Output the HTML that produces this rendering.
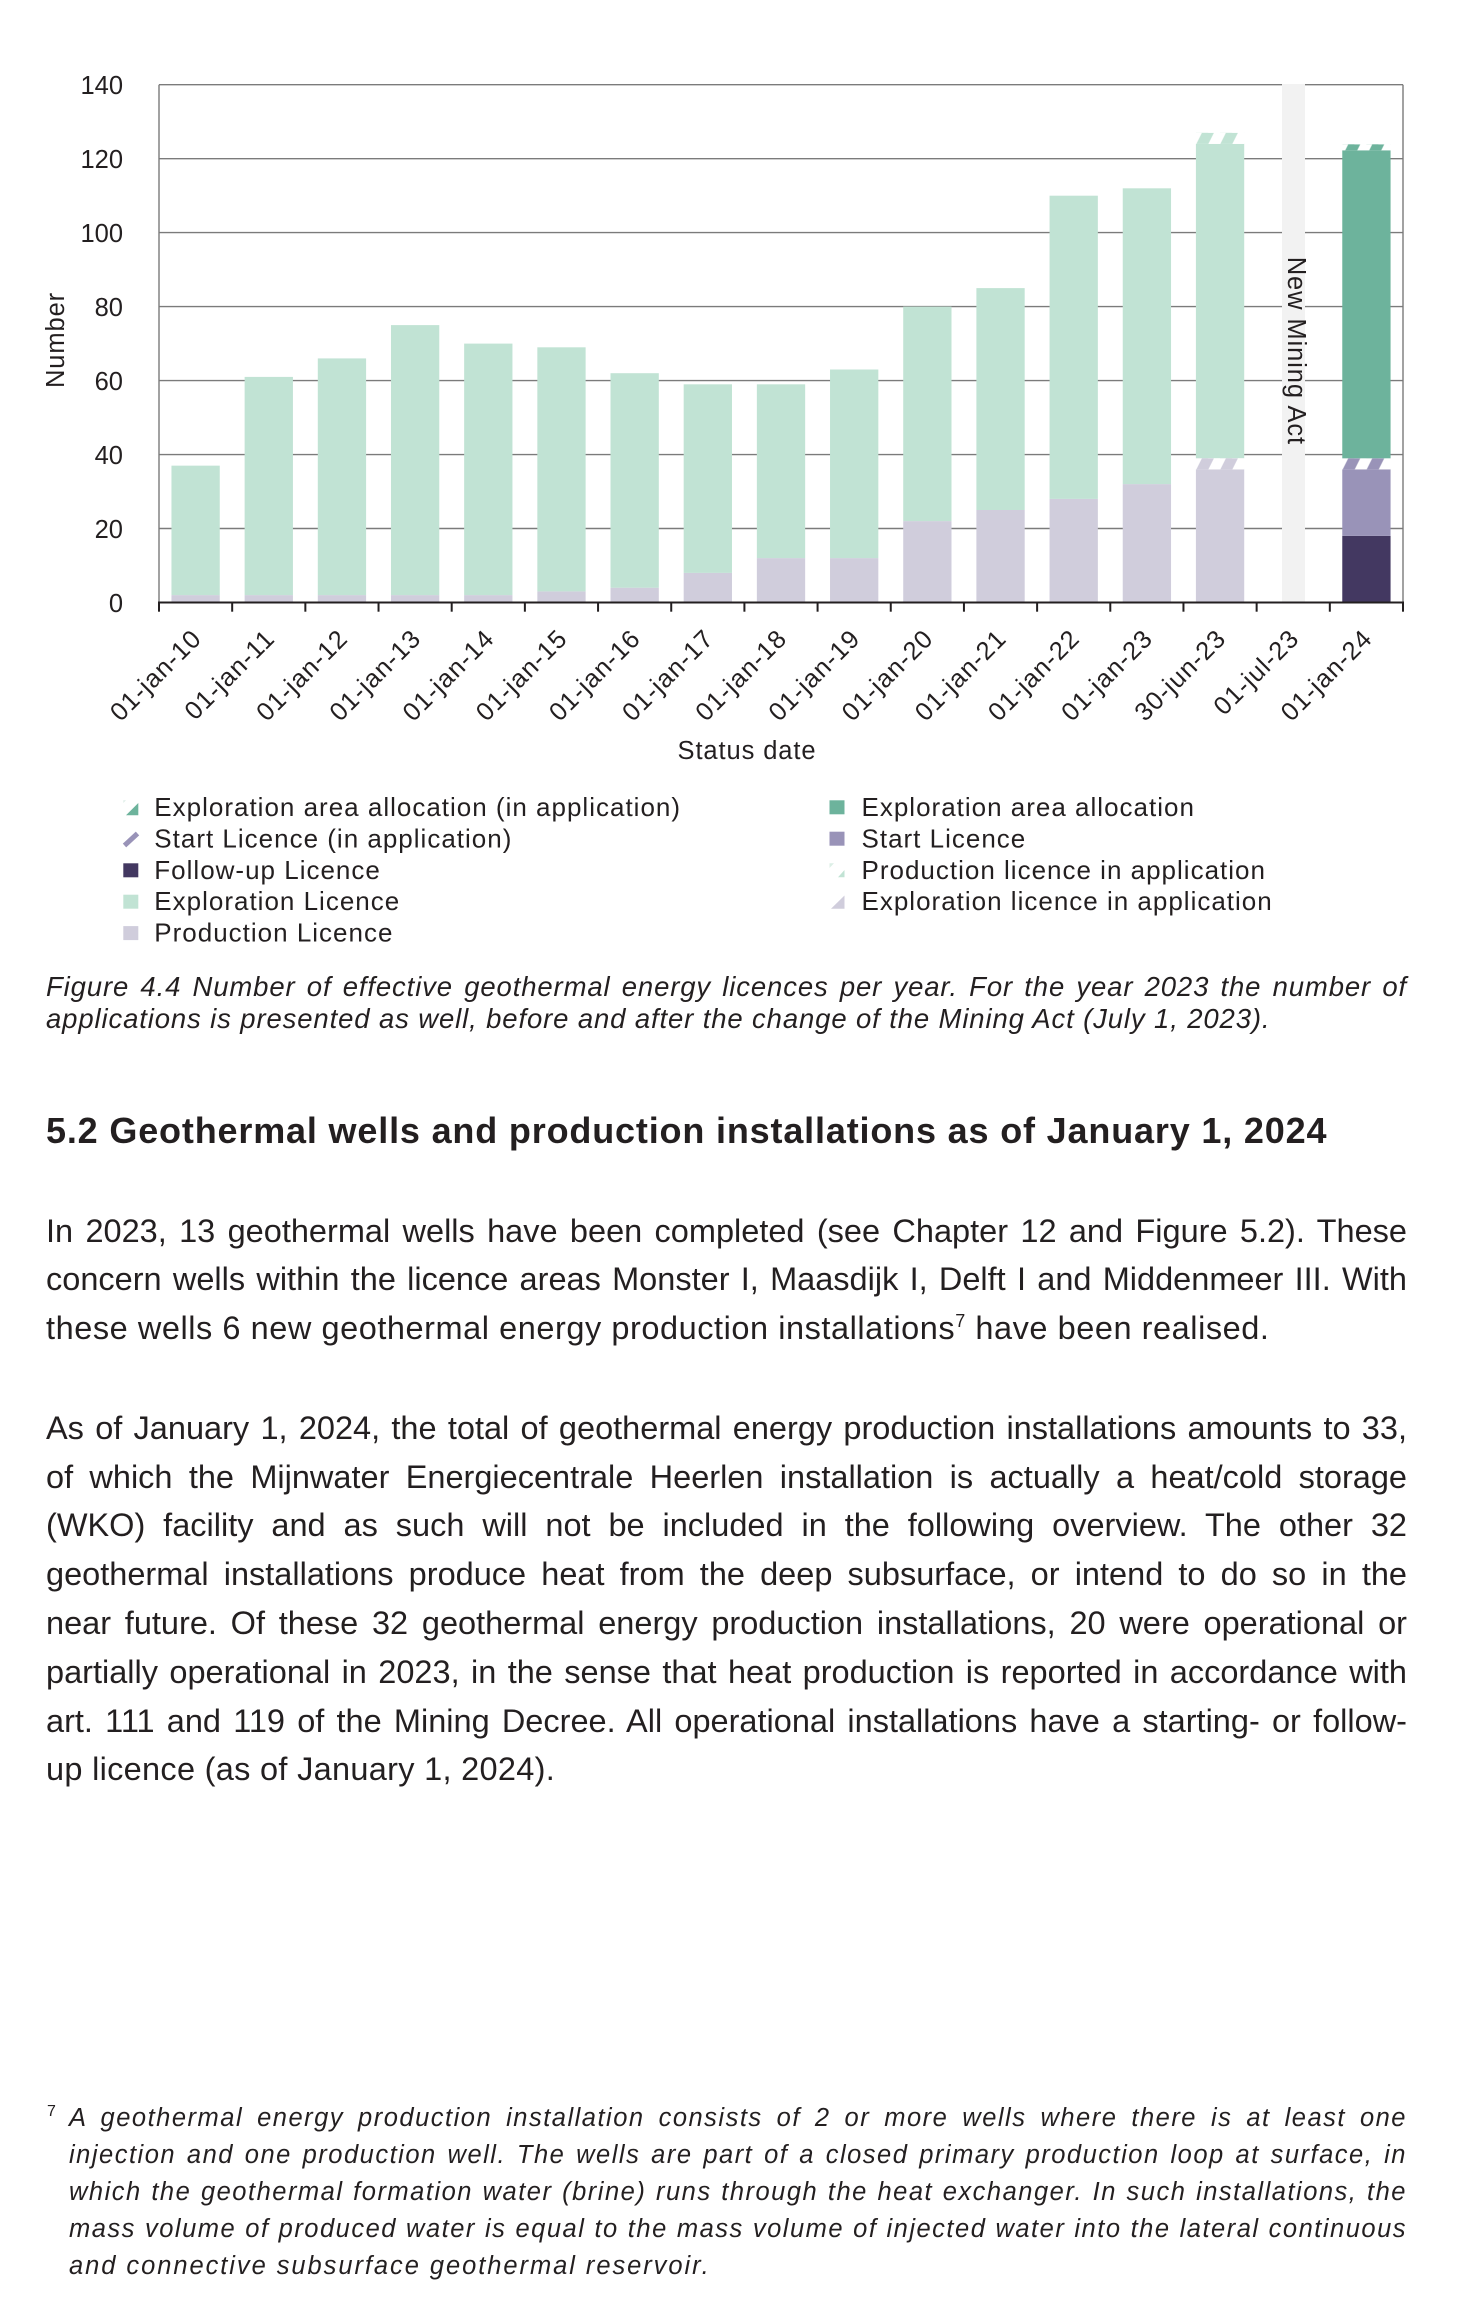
<!DOCTYPE html>
<html>
<head>
<meta charset="utf-8">
<style>
html,body{margin:0;padding:0;background:#fff;}
#page{position:relative;width:1472px;height:2312px;overflow:hidden;background:#fff;color:#231f20;font-family:"Liberation Sans",Arial,sans-serif;}
svg{position:absolute;left:0;top:0;}
.b{position:absolute;left:46px;width:1361px;font-size:32.5px;line-height:1;text-align:justify;text-align-last:justify;white-space:normal;}
.bl{text-align:left;text-align-last:left;letter-spacing:0.4px;}
.c{position:absolute;left:46px;width:1361px;font-size:27.5px;line-height:1;font-style:italic;letter-spacing:0.87px;text-align:justify;text-align-last:justify;}
.cl{text-align:left;text-align-last:left;}
.h{position:absolute;left:46px;top:1112.8px;font-size:36px;line-height:1;font-weight:bold;letter-spacing:0.83px;white-space:nowrap;}
.f{position:absolute;left:69px;width:1338px;font-size:25.5px;line-height:1;font-style:italic;letter-spacing:1.5px;text-align:justify;text-align-last:justify;}
.fl{text-align:left;text-align-last:left;letter-spacing:1.94px;}
.sup{position:relative;top:-12px;font-size:18px;line-height:0;}
</style>
</head>
<body>
<div id="page">
<svg width="1472" height="980" viewBox="0 0 1472 980" xmlns="http://www.w3.org/2000/svg" font-family="'Liberation Sans', Arial, sans-serif" fill="#231f20">
<defs>
<pattern id="hm" patternUnits="userSpaceOnUse" x="1195.91" y="132.8" width="24" height="12"><rect width="24" height="12" fill="#fff"/><polygon points="0,12 6,0 18,0 12,12" fill="#c1e3d4"/></pattern>
<pattern id="hl" patternUnits="userSpaceOnUse" x="1195.91" y="458.3" width="24" height="12"><rect width="24" height="12" fill="#fff"/><polygon points="0,12 6,0 18,0 12,12" fill="#d0cddc"/></pattern>
<pattern id="hp" patternUnits="userSpaceOnUse" x="1342.27" y="458.3" width="24" height="12"><rect width="24" height="12" fill="#fff"/><polygon points="0,12 6,0 18,0 12,12" fill="#9993b8"/></pattern>
<pattern id="hg" patternUnits="userSpaceOnUse" x="1342.27" y="144.3" width="24" height="12"><rect width="24" height="12" fill="#fff"/><polygon points="0,12 6,0 18,0 12,12" fill="#6db39c"/></pattern>
</defs>

<g stroke="#7b7b7b" stroke-width="1.4">
<line x1="159" y1="528.5" x2="1403" y2="528.5"/>
<line x1="159" y1="454.6" x2="1403" y2="454.6"/>
<line x1="159" y1="380.6" x2="1403" y2="380.6"/>
<line x1="159" y1="306.6" x2="1403" y2="306.6"/>
<line x1="159" y1="232.6" x2="1403" y2="232.6"/>
<line x1="159" y1="158.7" x2="1403" y2="158.7"/>
<line x1="159" y1="84.7" x2="1403" y2="84.7"/>
<line x1="159" y1="84.7" x2="159" y2="602.5"/>
<line x1="1403" y1="84.7" x2="1403" y2="602.5"/>
</g>

<rect x="1282" y="84" width="23" height="518.5" fill="#f2f2f2"/>

<g fill="#d0cddc">
<rect x="171.45" y="595.1" width="48.3" height="7.4"/>
<rect x="244.63" y="595.1" width="48.3" height="7.4"/>
<rect x="317.80" y="595.1" width="48.3" height="7.4"/>
<rect x="390.98" y="595.1" width="48.3" height="7.4"/>
<rect x="464.15" y="595.1" width="48.3" height="7.4"/>
<rect x="537.33" y="591.4" width="48.3" height="11.1"/>
<rect x="610.51" y="587.7" width="48.3" height="14.8"/>
<rect x="683.68" y="572.9" width="48.3" height="29.6"/>
<rect x="756.86" y="558.1" width="48.3" height="44.4"/>
<rect x="830.03" y="558.1" width="48.3" height="44.4"/>
<rect x="903.21" y="521.1" width="48.3" height="81.4"/>
<rect x="976.39" y="510.0" width="48.3" height="92.5"/>
<rect x="1049.56" y="498.9" width="48.3" height="103.6"/>
<rect x="1122.74" y="484.1" width="48.3" height="118.4"/>
<rect x="1195.91" y="469.35" width="48.3" height="133.15"/>
</g>
<g fill="#c1e3d4">
<rect x="171.45" y="465.65" width="48.3" height="129.45"/>
<rect x="244.63" y="376.9" width="48.3" height="218.2"/>
<rect x="317.80" y="358.4" width="48.3" height="236.7"/>
<rect x="390.98" y="325.1" width="48.3" height="270"/>
<rect x="464.15" y="343.6" width="48.3" height="251.5"/>
<rect x="537.33" y="347.3" width="48.3" height="244.1"/>
<rect x="610.51" y="373.2" width="48.3" height="214.5"/>
<rect x="683.68" y="384.3" width="48.3" height="188.6"/>
<rect x="756.86" y="384.3" width="48.3" height="173.8"/>
<rect x="830.03" y="369.5" width="48.3" height="188.6"/>
<rect x="903.21" y="306.6" width="48.3" height="214.5"/>
<rect x="976.39" y="288.1" width="48.3" height="221.9"/>
<rect x="1049.56" y="195.7" width="48.3" height="303.2"/>
<rect x="1122.74" y="188.3" width="48.3" height="295.8"/>
<rect x="1195.91" y="143.9" width="48.3" height="314.4"/>
</g>
<rect x="1195.91" y="458.3" width="48.3" height="11.05" fill="url(#hl)"/>
<rect x="1195.91" y="132.8" width="48.3" height="11.1" fill="url(#hm)"/>
<rect x="1342.27" y="535.9" width="48.3" height="66.6" fill="#433861"/>
<rect x="1342.27" y="469.35" width="48.3" height="66.55" fill="#9993b8"/>
<rect x="1342.27" y="458.3" width="48.3" height="11.05" fill="url(#hp)"/>
<rect x="1342.27" y="150.3" width="48.3" height="308" fill="#6db39c"/>
<rect x="1342.27" y="144.3" width="48.3" height="6" fill="url(#hg)"/>

<g stroke="#231f20" stroke-width="2">
<line x1="158" y1="602.5" x2="1404" y2="602.5"/>
<line x1="159" y1="602.5" x2="159" y2="611.7"/>
<line x1="232.18" y1="602.5" x2="232.18" y2="611.7"/>
<line x1="305.35" y1="602.5" x2="305.35" y2="611.7"/>
<line x1="378.53" y1="602.5" x2="378.53" y2="611.7"/>
<line x1="451.70" y1="602.5" x2="451.70" y2="611.7"/>
<line x1="524.88" y1="602.5" x2="524.88" y2="611.7"/>
<line x1="598.06" y1="602.5" x2="598.06" y2="611.7"/>
<line x1="671.23" y1="602.5" x2="671.23" y2="611.7"/>
<line x1="744.41" y1="602.5" x2="744.41" y2="611.7"/>
<line x1="817.58" y1="602.5" x2="817.58" y2="611.7"/>
<line x1="890.76" y1="602.5" x2="890.76" y2="611.7"/>
<line x1="963.94" y1="602.5" x2="963.94" y2="611.7"/>
<line x1="1037.11" y1="602.5" x2="1037.11" y2="611.7"/>
<line x1="1110.29" y1="602.5" x2="1110.29" y2="611.7"/>
<line x1="1183.46" y1="602.5" x2="1183.46" y2="611.7"/>
<line x1="1256.64" y1="602.5" x2="1256.64" y2="611.7"/>
<line x1="1329.82" y1="602.5" x2="1329.82" y2="611.7"/>
<line x1="1403" y1="602.5" x2="1403" y2="611.7"/>
</g>

<g font-size="25.5" text-anchor="end">
<text x="123" y="611.8">0</text>
<text x="123" y="537.8">20</text>
<text x="123" y="463.9">40</text>
<text x="123" y="389.9">60</text>
<text x="123" y="315.9">80</text>
<text x="123" y="241.9">100</text>
<text x="123" y="168">120</text>
<text x="123" y="94">140</text>
</g>

<text x="0" y="0" font-size="25.5" letter-spacing="0.9" text-anchor="middle" transform="translate(64,340) rotate(-90)">Number</text>

<g font-size="25.5" letter-spacing="1" text-anchor="end">
<text x="203.0" y="640" transform="rotate(-45 203.0 640)">01-jan-10</text>
<text x="276.2" y="640" transform="rotate(-45 276.2 640)">01-jan-11</text>
<text x="349.3" y="640" transform="rotate(-45 349.3 640)">01-jan-12</text>
<text x="422.5" y="640" transform="rotate(-45 422.5 640)">01-jan-13</text>
<text x="495.7" y="640" transform="rotate(-45 495.7 640)">01-jan-14</text>
<text x="568.9" y="640" transform="rotate(-45 568.9 640)">01-jan-15</text>
<text x="642.0" y="640" transform="rotate(-45 642.0 640)">01-jan-16</text>
<text x="715.2" y="640" transform="rotate(-45 715.2 640)">01-jan-17</text>
<text x="788.4" y="640" transform="rotate(-45 788.4 640)">01-jan-18</text>
<text x="861.6" y="640" transform="rotate(-45 861.6 640)">01-jan-19</text>
<text x="934.8" y="640" transform="rotate(-45 934.8 640)">01-jan-20</text>
<text x="1007.9" y="640" transform="rotate(-45 1007.9 640)">01-jan-21</text>
<text x="1081.1" y="640" transform="rotate(-45 1081.1 640)">01-jan-22</text>
<text x="1154.3" y="640" transform="rotate(-45 1154.3 640)">01-jan-23</text>
<text x="1227.5" y="640" transform="rotate(-45 1227.5 640)">30-jun-23</text>
<text x="1300.6" y="640" transform="rotate(-45 1300.6 640)">01-jul-23</text>
<text x="1373.8" y="640" transform="rotate(-45 1373.8 640)">01-jan-24</text>
</g>

<text x="747" y="759" font-size="25.5" letter-spacing="0.9" text-anchor="middle">Status date</text>

<text x="0" y="0" font-size="25.5" letter-spacing="0.9" transform="translate(1288,256.7) rotate(90)">New Mining Act</text>

<rect x="123.3" y="800.3" width="15" height="15" fill="#fff"/>
<polygon points="126,815.3 138.3,803 138.3,815.3" fill="#6db39c"/>
<polygon points="123.3,803 126,800.3 123.3,800.3" fill="#dfeee8"/>
<line x1="124.5" y1="845.5" x2="137.5" y2="833.5" stroke="#9993b8" stroke-width="5"/>
<rect x="123.3" y="863.3" width="15" height="14" fill="#433861"/>
<rect x="123.3" y="894.7" width="15" height="14" fill="#c1e3d4"/>
<rect x="123.3" y="926.1" width="15" height="14" fill="#d0cddc"/>
<rect x="829.5" y="800.3" width="15" height="14" fill="#6db39c"/>
<rect x="829.5" y="831.7" width="15" height="14" fill="#9993b8"/>
<polygon points="829.5,863.3 834,863.3 829.5,868" fill="#dcefe6"/>
<polygon points="844.5,877.3 838,877.3 844.5,870" fill="#c1e3d4"/>
<polygon points="831,908.7 844.5,895.5 844.5,908.7" fill="#d0cddc"/>

<g font-size="26" letter-spacing="1">
<text x="154.3" y="816">Exploration area allocation (in application)</text>
<text x="154.3" y="847.4">Start Licence (in application)</text>
<text x="154.3" y="878.8">Follow-up Licence</text>
<text x="154.3" y="910.2">Exploration Licence</text>
<text x="154.3" y="941.6">Production Licence</text>
<text x="861.5" y="816">Exploration area allocation</text>
<text x="861.5" y="847.4">Start Licence</text>
<text x="861.5" y="878.8">Production licence in application</text>
<text x="861.5" y="910.2">Exploration licence in application</text>
</g>
</svg>

<div class="c" style="top:973.4px;">Figure 4.4 Number of effective geothermal energy licences per year. For the year 2023 the number of</div>
<div class="c cl" style="top:1005px;">applications is presented as well, before and after the change of the Mining Act (July 1, 2023).</div>

<div class="h">5.2 Geothermal wells and production installations as of January 1, 2024</div>

<div class="b" style="top:1215.2px;">In 2023, 13 geothermal wells have been completed (see Chapter 12 and Figure 5.2). These</div>
<div class="b" style="top:1263.2px;">concern wells within the licence areas Monster I, Maasdijk I, Delft I and Middenmeer III. With</div>
<div class="b bl" style="top:1311.8px;letter-spacing:0.55px;">these wells 6 new geothermal energy production installations<span class="sup">7</span> have been realised.</div>

<div class="b" style="top:1411.8px;">As of January 1, 2024, the total of geothermal energy production installations amounts to 33,</div>
<div class="b" style="top:1460.6px;">of which the Mijnwater Energiecentrale Heerlen installation is actually a heat/cold storage</div>
<div class="b" style="top:1509.4px;">(WKO) facility and as such will not be included in the following overview. The other 32</div>
<div class="b" style="top:1558.2px;">geothermal installations produce heat from the deep subsurface, or intend to do so in the</div>
<div class="b" style="top:1607px;">near future. Of these 32 geothermal energy production installations, 20 were operational or</div>
<div class="b" style="top:1655.8px;">partially operational in 2023, in the sense that heat production is reported in accordance with</div>
<div class="b" style="top:1704.6px;">art. 111 and 119 of the Mining Decree. All operational installations have a starting- or follow-</div>
<div class="b bl" style="top:1753.4px;letter-spacing:0.3px;">up licence (as of January 1, 2024).</div>

<div style="position:absolute;left:47px;top:2104px;font-size:16px;line-height:1;">7</div>
<div class="f" style="top:2105.7px;">A geothermal energy production installation consists of 2 or more wells where there is at least one</div>
<div class="f" style="top:2142.8px;">injection and one production well. The wells are part of a closed primary production loop at surface, in</div>
<div class="f" style="top:2179.9px;">which the geothermal formation water (brine) runs through the heat exchanger. In such installations, the</div>
<div class="f" style="top:2217px;">mass volume of produced water is equal to the mass volume of injected water into the lateral continuous</div>
<div class="f fl" style="top:2254.1px;">and connective subsurface geothermal reservoir.</div>
</div>
</body>
</html>
